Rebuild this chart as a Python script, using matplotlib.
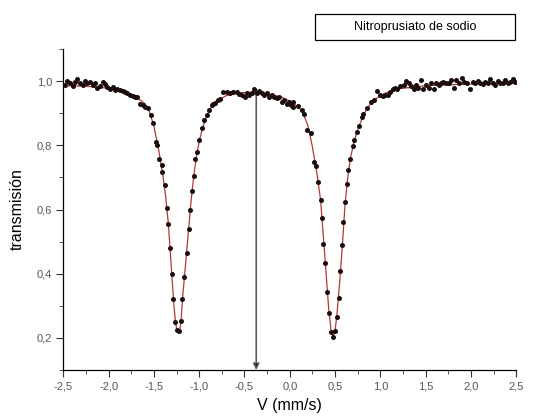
import matplotlib
matplotlib.use("Agg")
import matplotlib.pyplot as plt
from matplotlib.patches import Rectangle
from matplotlib.ticker import MultipleLocator

plt.rcParams['font.family'] = ['Liberation Sans', 'DejaVu Sans']

# measured points (velocity, transmission)
x_left = [-2.482, -2.456, -2.426, -2.397, -2.371, -2.345, -2.316, -2.286, -2.261, -2.235,
          -2.205, -2.176, -2.150, -2.124, -2.095, -2.066, -2.040, -2.014, -1.985, -1.955,
          -1.929, -1.904, -1.874, -1.845, -1.819, -1.793, -1.764, -1.734, -1.708, -1.683,
          -1.653, -1.624, -1.594]
y_left = [0.988, 1.000, 0.993, 0.984, 0.998, 1.006, 0.993, 0.988, 1.000, 0.995,
          0.998, 0.988, 0.993, 0.980, 0.984, 0.998, 0.991, 0.982, 0.977, 0.982,
          0.972, 0.977, 0.972, 0.970, 0.967, 0.962, 0.956, 0.953, 0.949, 0.949,
          0.930, 0.925, 0.920]

x_dip1 = [-1.561, -1.535, -1.513, -1.480, -1.462, -1.440, -1.414, -1.406, -1.381, -1.359,
          -1.340, -1.322, -1.303, -1.285, -1.263, -1.241, -1.222, -1.204, -1.186, -1.163,
          -1.138, -1.116, -1.101, -1.079, -1.060, -1.042, -1.020, -0.998, -0.972, -0.946,
          -0.917, -0.887, -0.854, -0.843, -0.825, -0.788]
y_dip1 = [0.915, 0.894, 0.868, 0.811, 0.801, 0.756, 0.739, 0.718, 0.676, 0.604,
          0.555, 0.479, 0.399, 0.320, 0.251, 0.225, 0.220, 0.253, 0.320, 0.389,
          0.466, 0.538, 0.598, 0.657, 0.705, 0.757, 0.780, 0.816, 0.853, 0.879,
          0.894, 0.910, 0.925, 0.928, 0.933, 0.941]

x_mid = [-0.770, -0.733, -0.696, -0.659, -0.622, -0.585, -0.556, -0.530, -0.493, -0.468,
         -0.446, -0.420, -0.390, -0.365, -0.335, -0.309, -0.284, -0.254, -0.225, -0.199,
         -0.173, -0.144, -0.114, -0.088, -0.063, -0.033, -0.011, 0.011, 0.033]
y_mid = [0.944, 0.967, 0.967, 0.964, 0.967, 0.967, 0.960, 0.956, 0.951, 0.964,
         0.956, 0.962, 0.977, 0.962, 0.970, 0.964, 0.956, 0.962, 0.951, 0.956,
         0.951, 0.946, 0.951, 0.936, 0.941, 0.930, 0.936, 0.925, 0.920]

x_dip2 = [0.040, 0.096, 0.133, 0.158, 0.195, 0.232, 0.269, 0.287, 0.317, 0.342,
          0.357, 0.372, 0.394, 0.409, 0.438, 0.456, 0.482, 0.501, 0.519, 0.541,
          0.560, 0.578, 0.593, 0.611, 0.630, 0.648, 0.667, 0.696, 0.711, 0.740,
          0.769, 0.795, 0.814, 0.850, 0.895, 0.932]
y_dip2 = [0.936, 0.922, 0.910, 0.896, 0.847, 0.837, 0.749, 0.736, 0.687, 0.630,
          0.575, 0.493, 0.432, 0.344, 0.277, 0.218, 0.204, 0.222, 0.264, 0.323,
          0.409, 0.490, 0.562, 0.624, 0.681, 0.723, 0.756, 0.799, 0.816, 0.842,
          0.860, 0.887, 0.899, 0.915, 0.936, 0.941]

x_right = [0.961, 0.998, 1.027, 1.053, 1.079, 1.108, 1.138, 1.163, 1.189, 1.219,
           1.256, 1.285, 1.311, 1.337, 1.366, 1.395, 1.421, 1.447, 1.476, 1.506,
           1.532, 1.557, 1.587, 1.616, 1.642, 1.668, 1.697, 1.727, 1.753, 1.778,
           1.808, 1.837, 1.863, 1.900, 1.926, 1.955, 1.992, 2.021, 2.047, 2.073,
           2.102, 2.132, 2.158, 2.183, 2.213, 2.242, 2.268, 2.294, 2.323, 2.353,
           2.378, 2.404, 2.434, 2.463, 2.489]
y_right = [0.970, 0.956, 0.953, 0.958, 0.956, 0.967, 0.974, 0.980, 0.974, 0.984,
           0.988, 1.001, 0.995, 0.984, 0.977, 0.988, 0.980, 1.003, 0.974, 0.988,
           0.980, 0.993, 0.977, 0.993, 0.988, 0.995, 0.998, 0.995, 0.993, 1.003,
           0.980, 1.003, 0.993, 1.010, 0.998, 0.993, 0.977, 0.998, 0.993, 1.001,
           0.995, 0.991, 0.998, 0.993, 1.008, 0.995, 0.988, 1.001, 0.995, 0.993,
           1.003, 0.993, 0.998, 1.008, 0.998]

# fitted curve
x_fit = [-2.50, -2.25, -2.00, -1.80, -1.70, -1.60, -1.55, -1.50, -1.45, -1.40,
         -1.37, -1.34, -1.31, -1.28, -1.26, -1.24, -1.228, -1.215, -1.20, -1.18,
         -1.15, -1.12, -1.09, -1.06, -1.03, -1.00, -0.96, -0.92, -0.87, -0.82,
         -0.76, -0.70, -0.55, -0.40, -0.25, -0.10, 0.00, 0.10, 0.15, 0.20,
         0.25, 0.30, 0.34, 0.37, 0.40, 0.43, 0.455, 0.478, 0.50, 0.52,
         0.55, 0.58, 0.61, 0.64, 0.67, 0.71, 0.76, 0.82, 0.88, 0.95,
         1.05, 1.20, 1.50, 2.00, 2.50]
y_fit = [0.986, 0.984, 0.978, 0.965, 0.952, 0.930, 0.905, 0.860, 0.790, 0.705,
         0.640, 0.555, 0.430, 0.305, 0.245, 0.218, 0.214, 0.222, 0.255, 0.335,
         0.430, 0.528, 0.625, 0.705, 0.765, 0.812, 0.857, 0.890, 0.917, 0.933,
         0.945, 0.955, 0.964, 0.965, 0.961, 0.951, 0.938, 0.918, 0.898, 0.862,
         0.795, 0.712, 0.630, 0.520, 0.405, 0.290, 0.225, 0.204, 0.222, 0.270,
         0.370, 0.485, 0.615, 0.700, 0.760, 0.812, 0.857, 0.898, 0.925, 0.945,
         0.962, 0.976, 0.986, 0.991, 0.994]

x_ticks = [-2.5, -2.0, -1.5, -1.0, -0.5, 0.0, 0.5, 1.0, 1.5, 2.0, 2.5]
x_labels = ['-2,5', '-2,0', '-1,5', '-1,0', '-0,5', '0,0', '0,5', '1,0', '1,5', '2,0', '2,5']
y_ticks = [0.2, 0.4, 0.6, 0.8, 1.0]
y_labels = ['0,2', '0,4', '0,6', '0,8', '1,0']

arrow_x = -0.37
arrow_top = 0.97

fig = plt.figure(figsize=(5.49, 4.19), dpi=100)
ax = fig.add_axes([0.1153, 0.117, 0.825, 0.766])

ax.plot(x_fit, y_fit, color='#b03a3a', lw=0.9, zorder=2)
for xs, ys in [(x_left, y_left), (x_dip1, y_dip1), (x_mid, y_mid), (x_dip2, y_dip2), (x_right, y_right)]:
    ax.plot(xs, ys, 'o', color='#1c0d0d', ms=3.6, mew=0, zorder=3)

ax.annotate('', xy=(arrow_x, 0.1), xytext=(arrow_x, arrow_top),
            arrowprops=dict(arrowstyle='-|>', color='#5a5a5a', lw=1.2,
                            mutation_scale=9, shrinkA=0, shrinkB=0,
                            fc='black', ec='#5a5a5a'), zorder=1)

ax.set_xlim(-2.5, 2.5)
ax.set_ylim(0.1, 1.1)
ax.set_xticks(x_ticks)
ax.set_xticklabels(x_labels)
ax.set_yticks(y_ticks)
ax.set_yticklabels(y_labels)
ax.xaxis.set_minor_locator(MultipleLocator(0.25))
ax.yaxis.set_minor_locator(MultipleLocator(0.1))
ax.tick_params(which='major', length=5, width=0.8, labelsize=8, labelcolor='#555555', color='#333333', pad=3)
ax.tick_params(which='minor', length=3, width=0.7, color='#555555')

for side in ['top', 'right']:
    ax.spines[side].set_visible(False)
for side in ['left', 'bottom']:
    ax.spines[side].set_linewidth(0.9)

ax.set_xlabel('V (mm/s)', fontsize=11.5, labelpad=5)
ax.set_ylabel('transmisión', fontsize=11.5, labelpad=9)

fig.patches.append(Rectangle((315 / 549, 1 - 40 / 419), 200 / 549, 26 / 419,
                             transform=fig.transFigure, fill=False, ec='black', lw=0.9))
fig.text(415 / 549, 1 - 27 / 419, 'Nitroprusiato de sodio', ha='center', va='center', fontsize=9)

fig.savefig('out.png', dpi=100)
